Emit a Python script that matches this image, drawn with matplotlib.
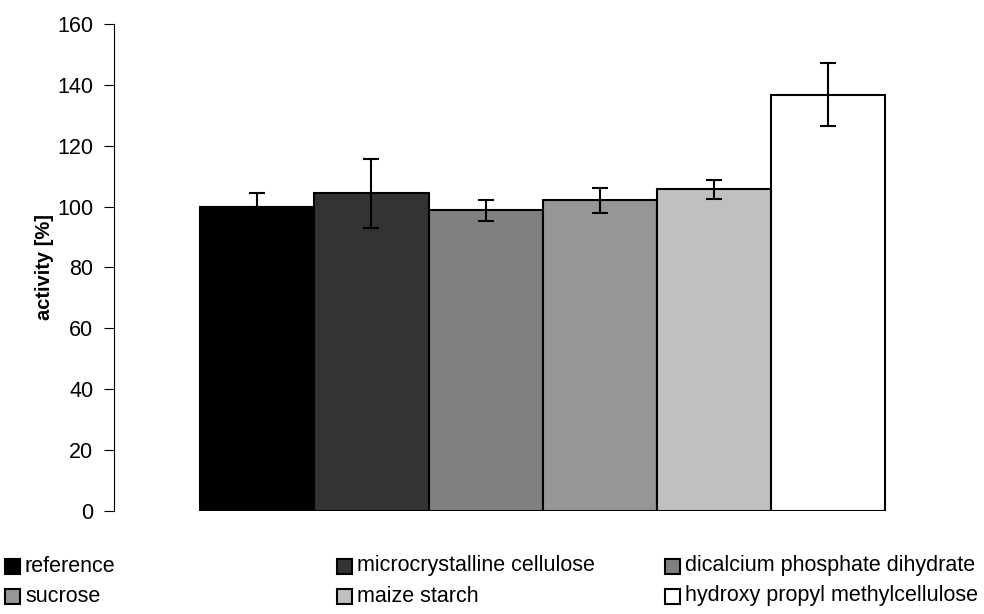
import matplotlib.pyplot as plt
from matplotlib.patches import Rectangle

plt.rcParams['font.family'] = ['Liberation Sans', 'DejaVu Sans']

categories = ["reference", "microcrystalline cellulose", "dicalcium phosphate dihydrate",
              "sucrose", "maize starch", "hydroxy propyl methylcellulose"]
activity = [100.0, 104.3, 98.7, 102.0, 105.6, 136.8]
errors = [4.3, 11.2, 3.4, 4.1, 3.1, 10.3]
colors = ["#000000", "#333333", "#808080", "#969696", "#c0c0c0", "#ffffff"]
yticks = [0, 20, 40, 60, 80, 100, 120, 140, 160]

fig = plt.figure(figsize=(9.84, 6.14), dpi=100)
ax = fig.add_axes([0.116, 0.168, 0.871, 0.793])

x = list(range(len(categories)))
ax.bar(x, activity, width=1.0, color=colors, edgecolor="black", linewidth=1.5, zorder=2)
ax.errorbar(x, activity, yerr=errors, fmt="none", ecolor="black", elinewidth=1.5,
            capsize=6, capthick=1.5, zorder=3)

ax.set_xlim(-1.254, 6.254)
ax.set_ylim(0, 160)
ax.set_yticks(yticks)
ax.set_xticks([])
ax.tick_params(axis="y", direction="out", length=7, width=0.8, labelsize=15.5, pad=8)
for s in ["top", "right", "bottom"]:
    ax.spines[s].set_visible(False)
ax.spines["left"].set_linewidth(0.8)
ax.set_ylabel("activity [%]", fontsize=14.5, fontweight="bold", labelpad=2)

# legend laid out as in the original: 3 columns x 2 rows, equal column spacing
col_x = [5, 337, 665]
row_y = [566, 596]
W, H = 984.0, 614.0
sq = 15
for i, (name, c) in enumerate(zip(categories, colors)):
    px = col_x[i % 3]
    py = row_y[i // 3]
    fig.add_artist(Rectangle((px / W, 1 - (py + sq / 2) / H), sq / W, sq / H,
                             facecolor=c, edgecolor="black", linewidth=1.5,
                             transform=fig.transFigure))
    fig.text((px + sq + 5) / W, 1 - py / H, name, fontsize=15.5, va="center", ha="left")

fig.savefig("out.png", dpi=100)
